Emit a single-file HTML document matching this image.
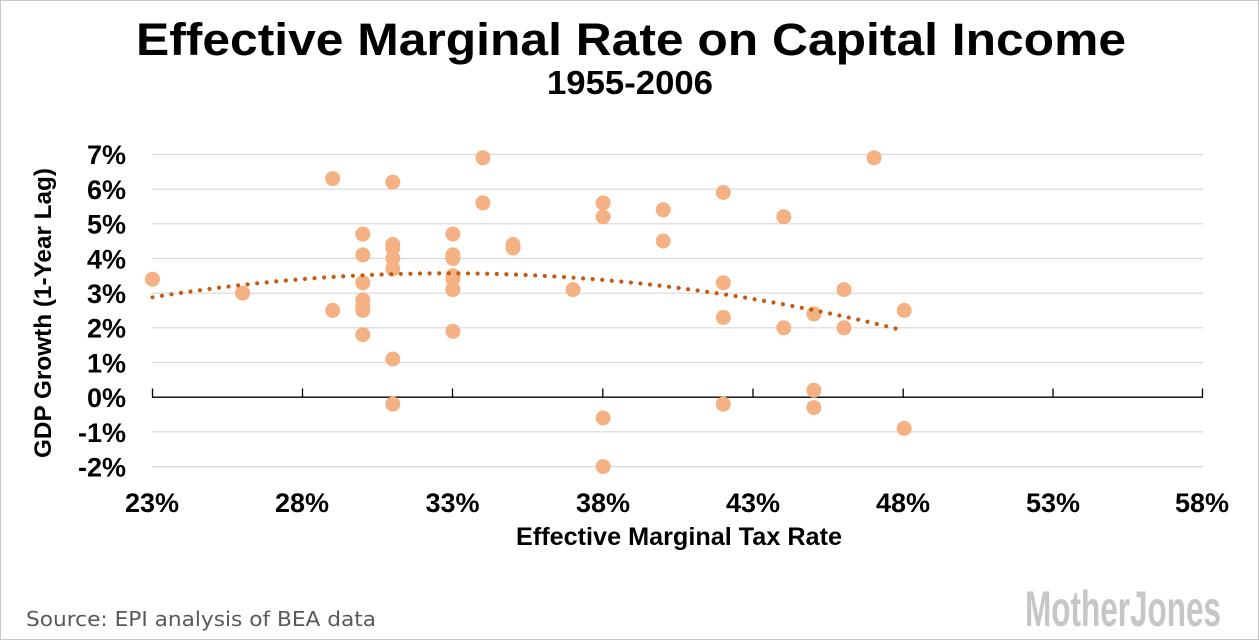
<!DOCTYPE html>
<html>
<head>
<meta charset="utf-8">
<style>
  html,body{margin:0;padding:0;background:#fff;}
  svg{display:block;}
</style>
</head>
<body>
<svg width="1260" height="641" viewBox="0 0 1260 641" xmlns="http://www.w3.org/2000/svg">
  <rect x="0" y="0" width="1260" height="641" fill="#fff"/>
  <rect x="0.5" y="0.5" width="1258" height="639" fill="none" stroke="#c8c8c8" stroke-width="1"/>

  <text x="136" y="55" font-family="Liberation Sans, sans-serif" font-weight="bold" font-size="45" fill="#000" textLength="990" lengthAdjust="spacingAndGlyphs">Effective Marginal Rate on Capital Income</text>
  <text x="547" y="94" font-family="Liberation Sans, sans-serif" font-weight="bold" font-size="33" fill="#000" textLength="166" lengthAdjust="spacingAndGlyphs">1955-2006</text>

  <g stroke="#d9d9d9" stroke-width="1.2">
    <line x1="152" y1="154.5" x2="1203" y2="154.5"/>
    <line x1="152" y1="189.2" x2="1203" y2="189.2"/>
    <line x1="152" y1="223.8" x2="1203" y2="223.8"/>
    <line x1="152" y1="258.5" x2="1203" y2="258.5"/>
    <line x1="152" y1="293.2" x2="1203" y2="293.2"/>
    <line x1="152" y1="327.8" x2="1203" y2="327.8"/>
    <line x1="152" y1="362.5" x2="1203" y2="362.5"/>
    <line x1="152" y1="431.9" x2="1203" y2="431.9"/>
    <line x1="152" y1="466.6" x2="1203" y2="466.6"/>
  </g>

  <g stroke="#000" stroke-width="1.3">
    <line x1="152" y1="397.2" x2="1203" y2="397.2"/>
    <line x1="152.5" y1="388.5" x2="152.5" y2="397.2"/>
    <line x1="302.5" y1="388.5" x2="302.5" y2="397.2"/>
    <line x1="452.5" y1="388.5" x2="452.5" y2="397.2"/>
    <line x1="602.8" y1="388.5" x2="602.8" y2="397.2"/>
    <line x1="753" y1="388.5" x2="753" y2="397.2"/>
    <line x1="903.2" y1="388.5" x2="903.2" y2="397.2"/>
    <line x1="1053" y1="388.5" x2="1053" y2="397.2"/>
    <line x1="1202.5" y1="388.5" x2="1202.5" y2="397.2"/>
  </g>

  <g font-family="Liberation Sans, sans-serif" font-weight="bold" font-size="27" fill="#000" text-anchor="end">
    <text x="126" y="164.2">7%</text>
    <text x="126" y="198.9">6%</text>
    <text x="126" y="233.6">5%</text>
    <text x="126" y="268.3">4%</text>
    <text x="126" y="303">3%</text>
    <text x="126" y="337.7">2%</text>
    <text x="126" y="372.4">1%</text>
    <text x="126" y="407.1">0%</text>
    <text x="126" y="441.8">-1%</text>
    <text x="126" y="476.5">-2%</text>
  </g>

  <g font-family="Liberation Sans, sans-serif" font-weight="bold" font-size="27" fill="#000" text-anchor="middle">
    <text x="152" y="512">23%</text>
    <text x="302" y="512">28%</text>
    <text x="452.5" y="512">33%</text>
    <text x="603" y="512">38%</text>
    <text x="753" y="512">43%</text>
    <text x="903" y="512">48%</text>
    <text x="1053" y="512">53%</text>
    <text x="1202" y="512">58%</text>
  </g>

  <text x="516" y="545" font-family="Liberation Sans, sans-serif" font-weight="bold" font-size="25" fill="#000" textLength="326" lengthAdjust="spacingAndGlyphs">Effective Marginal Tax Rate</text>
  <text transform="translate(51,313) rotate(-90)" x="0" y="0" text-anchor="middle" font-family="Liberation Sans, sans-serif" font-weight="bold" font-size="24" fill="#000" textLength="290" lengthAdjust="spacingAndGlyphs">GDP Growth (1-Year Lag)</text>

  <g fill="#f4b183">
    <circle cx="152.5" cy="279.2" r="7.5"/>
    <circle cx="242.6" cy="293.1" r="7.5"/>
    <circle cx="332.7" cy="178.6" r="7.5"/>
    <circle cx="332.7" cy="310.4" r="7.5"/>
    <circle cx="362.8" cy="234.1" r="7.5"/>
    <circle cx="362.8" cy="254.9" r="7.5"/>
    <circle cx="362.8" cy="282.7" r="7.5"/>
    <circle cx="362.8" cy="300.0" r="7.5"/>
    <circle cx="362.8" cy="307.0" r="7.5"/>
    <circle cx="362.8" cy="310.4" r="7.5"/>
    <circle cx="362.8" cy="334.7" r="7.5"/>
    <circle cx="392.8" cy="182.1" r="7.5"/>
    <circle cx="392.8" cy="244.5" r="7.5"/>
    <circle cx="392.8" cy="248.0" r="7.5"/>
    <circle cx="392.8" cy="258.4" r="7.5"/>
    <circle cx="392.8" cy="268.8" r="7.5"/>
    <circle cx="392.8" cy="359.0" r="7.5"/>
    <circle cx="392.8" cy="404.1" r="7.5"/>
    <circle cx="452.9" cy="234.1" r="7.5"/>
    <circle cx="452.9" cy="254.9" r="7.5"/>
    <circle cx="452.9" cy="258.4" r="7.5"/>
    <circle cx="452.9" cy="275.8" r="7.5"/>
    <circle cx="452.9" cy="279.2" r="7.5"/>
    <circle cx="452.9" cy="289.6" r="7.5"/>
    <circle cx="452.9" cy="331.3" r="7.5"/>
    <circle cx="482.9" cy="157.8" r="7.5"/>
    <circle cx="482.9" cy="202.9" r="7.5"/>
    <circle cx="513.0" cy="244.5" r="7.5"/>
    <circle cx="513.0" cy="248.0" r="7.5"/>
    <circle cx="573.1" cy="289.6" r="7.5"/>
    <circle cx="603.1" cy="202.9" r="7.5"/>
    <circle cx="603.1" cy="216.8" r="7.5"/>
    <circle cx="603.1" cy="418.0" r="7.5"/>
    <circle cx="603.1" cy="466.6" r="7.5"/>
    <circle cx="663.2" cy="209.8" r="7.5"/>
    <circle cx="663.2" cy="241.0" r="7.5"/>
    <circle cx="723.3" cy="192.5" r="7.5"/>
    <circle cx="723.3" cy="282.7" r="7.5"/>
    <circle cx="723.3" cy="317.4" r="7.5"/>
    <circle cx="723.3" cy="404.1" r="7.5"/>
    <circle cx="783.8" cy="216.8" r="7.5"/>
    <circle cx="783.8" cy="327.8" r="7.5"/>
    <circle cx="813.9" cy="313.9" r="7.5"/>
    <circle cx="813.9" cy="390.3" r="7.5"/>
    <circle cx="813.9" cy="407.6" r="7.5"/>
    <circle cx="844.0" cy="289.6" r="7.5"/>
    <circle cx="844.0" cy="327.8" r="7.5"/>
    <circle cx="874.1" cy="157.8" r="7.5"/>
    <circle cx="904.2" cy="310.4" r="7.5"/>
    <circle cx="904.2" cy="428.4" r="7.5"/>
  </g>

  <path d="M152.5,297.3 Q527.5,236.4 902.5,330.2" fill="none" stroke="#c55a11" stroke-width="4.2" stroke-linecap="round" stroke-dasharray="0 9.6"/>

  <text x="26" y="626" font-family="DejaVu Sans, Liberation Sans, sans-serif" font-size="20" fill="#595959" textLength="350" lengthAdjust="spacingAndGlyphs">Source: EPI analysis of BEA data</text>
  <text x="1025" y="626" font-family="Liberation Sans Narrow, Liberation Sans, sans-serif" font-weight="bold" font-size="50" fill="#c6c6c6" textLength="196" lengthAdjust="spacingAndGlyphs">MotherJones</text>
</svg>
</body>
</html>
